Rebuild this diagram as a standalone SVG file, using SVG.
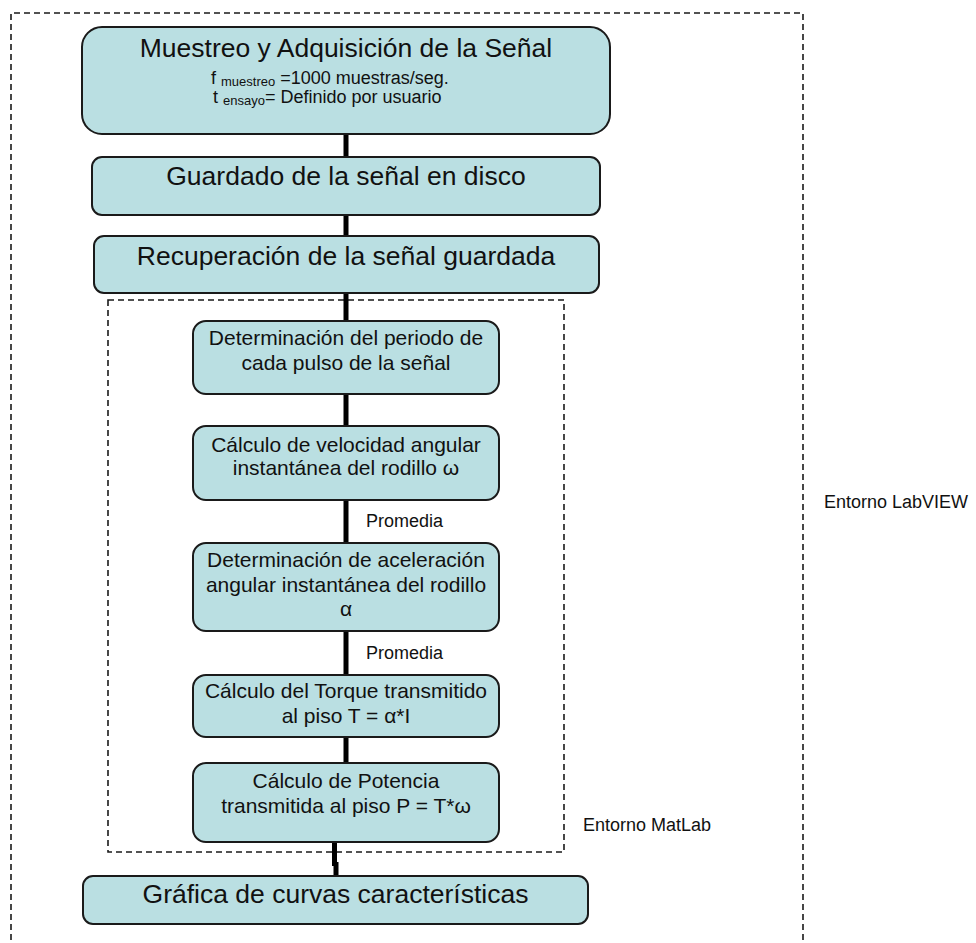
<svg xmlns="http://www.w3.org/2000/svg" width="976" height="943" viewBox="0 0 976 943">
<style>
.bg{fill:#ffffff}
.box{fill:#badfe2;stroke:#1a1a1a;stroke-width:2}
.dash{fill:none;stroke:#1a1a1a;stroke-width:1.6;stroke-dasharray:6 4}
.conn{fill:none;stroke:#000;stroke-width:5}
text{font-family:"Liberation Sans",Arial,sans-serif;fill:#111}
.big{font-size:26.5px;text-anchor:middle}
.mid{font-size:18px}
.sub{font-size:13px}
.sm{font-size:21px;text-anchor:middle}
.lbl{font-size:18px}
</style>
<rect class="bg" x="0" y="0" width="976" height="943"/>
<g id="frames">
<path class="dash" d="M11,960 V13 H803 V960"/>
<rect class="dash" x="108" y="300" width="456" height="552"/>
</g>
<g id="connectors">
<path class="conn" d="M346,134 V157 M346,215 V236 M346,293 V321 M346,394 V426 M346,500 V543 M346,631 V675 M346,737 V763 M334.5,842 V866 M336,862 V876"/>
</g>
<g id="n1">
<rect class="box" x="82" y="27" width="528" height="107" rx="20"/>
<text class="big" x="346" y="57">Muestreo y Adquisición de la Señal</text>
<text class="mid" x="211" y="84">f <tspan class="sub" dy="2">muestreo</tspan><tspan dy="-2"> =1000 muestras/seg.</tspan></text>
<text class="mid" x="213" y="103">t <tspan class="sub" dy="2">ensayo</tspan><tspan dy="-2">= Definido por usuario</tspan></text>
</g>
<g id="n2">
<rect class="box" x="92" y="157" width="508" height="58" rx="10"/>
<text class="big" x="346" y="185">Guardado de la señal en disco</text>
</g>
<g id="n3">
<rect class="box" x="94" y="236" width="505" height="57" rx="10"/>
<text class="big" x="346" y="265">Recuperación de la señal guardada</text>
</g>
<g id="n4">
<rect class="box" x="193" y="321" width="306" height="73" rx="13"/>
<text class="sm" x="346" y="345">Determinación del periodo de</text>
<text class="sm" x="346" y="370">cada pulso de la señal</text>
</g>
<g id="n5">
<rect class="box" x="193" y="426" width="306" height="74" rx="13"/>
<text class="sm" x="346" y="452">Cálculo de velocidad angular</text>
<text class="sm" x="346" y="475">instantánea del rodillo ω</text>
</g>
<text class="lbl" x="366" y="527">Promedia</text>
<g id="n6">
<rect class="box" x="193" y="543" width="306" height="88" rx="13"/>
<text class="sm" x="346" y="567">Determinación de aceleración</text>
<text class="sm" x="346" y="592">angular instantánea del rodillo</text>
<text class="sm" x="346" y="616">α</text>
</g>
<text class="lbl" x="366" y="659">Promedia</text>
<g id="n7">
<rect class="box" x="193" y="675" width="306" height="62" rx="13"/>
<text class="sm" x="346" y="698">Cálculo del Torque transmitido</text>
<text class="sm" x="346" y="723">al piso T = α*I</text>
</g>
<g id="n8">
<rect class="box" x="193" y="763" width="306" height="79" rx="13"/>
<text class="sm" x="346" y="788">Cálculo de Potencia</text>
<text class="sm" x="346" y="813">transmitida al piso P = T*ω</text>
</g>
<g id="n9">
<rect class="box" x="83" y="876" width="505" height="48" rx="10"/>
<text class="big" x="335.5" y="903">Gráfica de curvas características</text>
</g>
<g id="labels">
<text class="lbl" x="583" y="831">Entorno MatLab</text>
<text class="lbl" x="824" y="508">Entorno LabVIEW</text>
</g>
</svg>
